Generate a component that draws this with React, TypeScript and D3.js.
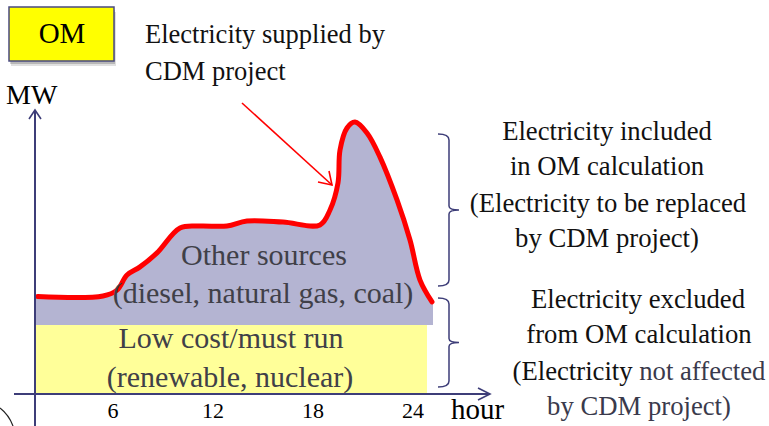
import React from "react";
import * as d3 from "d3";

const W = 769;
const H = 426;

// load curve (hour, MW) — schematic values
const curveHours = [1.48, 5.4, 6.24, 6.84, 7.62, 8.64, 10.02, 11.22, 12.84, 14.04, 16.2, 18.42, 19.02, 19.5, 19.62, 20.04, 20.52, 21.24, 22.02, 23.04, 23.82, 24.42, 25.14];
const curveMW = [34.8, 35, 37.1, 42.5, 45.4, 50.4, 59.3, 60, 60, 61.8, 61.4, 60.4, 65.7, 75.4, 87.1, 95, 97.1, 93.2, 84.6, 69.3, 55, 40.7, 32.9];
const baseLoadMW = 25; // low cost / must run
const baseHours = [1.32, 24.84];
const xTicks = [6, 12, 18, 24];

const FONT = '"Liberation Serif", "Tinos", "Times New Roman", "DejaVu Serif"';
const AXIS = "#3d3d78";

if (typeof document !== "undefined") document.body.style.margin = "0";

function T(props: any) {
  const { children, ...rest } = props;
  return (
    <text style={{ fontFamily: FONT }} {...rest}>
      {children}
    </text>
  );
}

export default function App() {
  const x = d3.scaleLinear().domain([0, 24]).range([13, 413]);
  const y = d3.scaleLinear().domain([0, 100]).range([394, 114]);

  const pts: [number, number][] = curveHours.map((h, i) => [h, curveMW[i]]);
  const area = d3
    .area<[number, number]>()
    .x((d) => x(d[0]))
    .y0(y(baseLoadMW) + 1)
    .y1((d) => y(d[1]))
    .curve(d3.curveCatmullRom.alpha(0.5));
  const line = d3
    .line<[number, number]>()
    .x((d) => x(d[0]))
    .y((d) => y(d[1]))
    .curve(d3.curveCatmullRom.alpha(0.5));

  const areaPts: [number, number][] = [[1.32, curveMW[0]], ...pts, [25.2, curveMW[curveMW.length - 1]]];

  const brace = (x0: number, top: number, bot: number, tipX: number) => {
    const mid = (top + bot) / 2;
    const vx = x0 + 11;
    return `M${x0},${top} Q${vx},${top} ${vx},${top + 6} L${vx},${mid - 4} Q${vx},${mid} ${tipX},${mid} Q${vx},${mid} ${vx},${mid + 4} L${vx},${bot - 6} Q${vx},${bot} ${x0},${bot}`;
  };

  return (
    <svg width={W} height={H} style={{ display: "block" }}>
      <rect x={0} y={0} width={W} height={H} fill="#fff" />

      {/* OM box with soft shadow */}
      <rect x={11} y={12} width={105} height={54} fill="#000" opacity={0.12} />
      <rect x={10} y={10} width={105} height={54} fill="#000" opacity={0.18} />
      <rect x={9} y={7} width={105} height={54} fill="#ffff00" stroke="#4a4a80" strokeWidth={1.5} />
      <T x={62} y={43} fontSize={29} textAnchor="middle" fill="#000">OM</T>

      {/* annotation text */}
      <T x={145} y={43} fontSize={26.5} fill="#111">Electricity supplied by</T>
      <T x={145} y={80} fontSize={26.5} fill="#111">CDM project</T>

      {/* base load */}
      <rect x={x(baseHours[0])} y={y(baseLoadMW) - 2} width={x(baseHours[1]) - x(baseHours[0])} height={y(0) - y(baseLoadMW) + 2} fill="#ffff99" />

      {/* other sources */}
      <path d={area(areaPts) || ""} fill="#b4b4d2" />
      <path d={line(pts) || ""} fill="none" stroke="#ff0000" strokeWidth={5} strokeLinejoin="round" strokeLinecap="round" />

      {/* arrow */}
      <line x1={242} y1={103} x2={332} y2={185} stroke="#ff0000" strokeWidth={1.6} />
      <path d="M318,182 L332,185 L329,171" fill="none" stroke="#ff0000" strokeWidth={1.6} />

      {/* axes */}
      <line x1={35} y1={y(0) + 32} x2={35} y2={110} stroke={AXIS} strokeWidth={2} />
      <path d="M29,119 L35,110 L41,119" fill="none" stroke={AXIS} strokeWidth={1.6} />
      <line x1={14} y1={y(0)} x2={490} y2={y(0)} stroke={AXIS} strokeWidth={2} />
      <path d="M478,388 L490,394 L478,400" fill="none" stroke={AXIS} strokeWidth={1.6} />
      <T x={6} y={104} fontSize={28} fill="#000">MW</T>
      <T x={451} y={419} fontSize={29} fill="#000">hour</T>
      {xTicks.map((t) => (
        <T key={t} x={x(t)} y={418} fontSize={22} textAnchor="middle" fill="#000">{t}</T>
      ))}

      {/* bottom-left arc */}
      <path d="M0,408 Q9,415 13,426" fill="none" stroke="#222" strokeWidth={1.2} />

      {/* area labels */}
      <T x={264} y={265} fontSize={30} fill="#404048" textAnchor="middle">Other sources</T>
      <T x={263} y={303} fontSize={30} fill="#404048" textAnchor="middle">(diesel, natural gas, coal)</T>
      <T x={231} y={348} fontSize={30} fill="#404048" textAnchor="middle">Low cost/must run</T>
      <T x={230} y={387} fontSize={30} fill="#404048" textAnchor="middle">(renewable, nuclear)</T>

      {/* braces */}
      <path d={brace(438, 134, 286, 459)} fill="none" stroke={AXIS} strokeWidth={1.5} />
      <path d={brace(438, 298, 387, 459)} fill="none" stroke={AXIS} strokeWidth={1.5} />

      {/* right explanation */}
      <T x={607} y={140} fontSize={26.7} textAnchor="middle" fill="#111">Electricity included</T>
      <T x={607} y={175} fontSize={26.7} textAnchor="middle" fill="#111">in OM calculation</T>
      <T x={608} y={212} fontSize={26.7} textAnchor="middle" fill="#111">(Electricity to be replaced</T>
      <T x={607} y={247} fontSize={26.7} textAnchor="middle" fill="#111">by CDM project)</T>
      <T x={638} y={308} fontSize={26.7} textAnchor="middle" fill="#111">Electricity excluded</T>
      <T x={639} y={343} fontSize={26.7} textAnchor="middle" fill="#111">from OM calculation</T>
      <T x={639} y={380} fontSize={26.7} textAnchor="middle" fill="#111">
        (Electricity <tspan fill="#3a3a4c">not affected</tspan>
      </T>
      <T x={639} y={415} fontSize={26.7} textAnchor="middle" fill="#3a3a4c">by CDM project)</T>
    </svg>
  );
}
